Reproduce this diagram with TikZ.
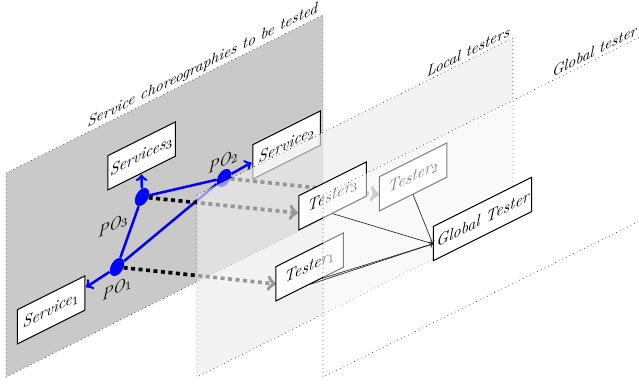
\documentclass[tikz,border=0pt]{standalone}
\usetikzlibrary{shapes.geometric,calc}
\begin{document}
\begin{tikzpicture}[x=0.6pt,y=-0.6pt,
  font=\fontsize{9}{11}\selectfont\itshape,
  plane/.style={draw=black!85, dotted, line width=0.4pt},
  box/.style={draw, fill=white, yslant=0.5, minimum width=40.5pt, minimum height=20.5pt, inner xsep=1pt, inner ysep=2pt, line width=0.6pt, font=\fontsize{9.6}{11}\selectfont\itshape},
  po/.style={shape=ellipse, fill=blue, yslant=0.5, minimum width=8.6pt, minimum height=10pt, inner sep=0pt},
  poedge/.style={blue, line width=1.5pt},
  poarrow/.style={blue, line width=1.5pt, ->, shorten >=0.5pt},
  dasharrow/.style={black, line width=2.2pt, dash pattern=on 2.4pt off 2.1pt, ->},
  thinarrow/.style={black!85, line width=0.4pt, ->},
  slanted/.style={yslant=0.5, font=\fontsize{9.6}{11}\selectfont\itshape},
  planelabel/.style={yslant=0.5, anchor=south east, inner sep=2pt}
]
\useasboundingbox (0,0) rectangle (639,385);

% plane 1
\path[plane, fill=black!21] (6,173) -- (323,15) -- (323,219) -- (6,377) -- cycle;
\node[planelabel] (lab1) at (321,17) {Service choreographies to be tested};

% plane 1 contents
\node[po] (PO1) at (117,267) {};
\node[po] (PO2) at (224,178) {};
\node[po] (PO3) at (142,197) {};
\node[box] (S3) at (141.5,156) {Services$_3$};
\node[box] (S2) at (286.5,145) {Service$_2$};
\node[box] (S1) at (51,310) {Service$_1$};
\draw[poedge] (PO3) -- (PO2);
\draw[poedge] (PO3) -- (PO1);
\draw[poedge] (PO1) -- (PO2);
\draw[poarrow] (PO3) -- (S3.south);
\draw[poarrow] (PO2) -- (S2.west);
\draw[poarrow] (PO1) -- (S1);
\node[slanted] (l1) at (117,289) {PO$_1$};
\node[slanted] (l3) at (113,226) {PO$_3$};
\node[slanted] (l2) at (223,162) {PO$_2$};

% tester west ends (boxes drawn after plane 2)
\coordinate (T3w) at (298,213);
\coordinate (T2w) at (379,194.5);
\coordinate (T1w) at (276,284);
\draw[dasharrow] (PO3) -- (T3w);
\draw[dasharrow] (PO2) -- (T2w);
\draw[dasharrow] (PO1) -- (T1w);

% plane 2
\path[plane, fill=black!7, fill opacity=0.64] (197,195) -- (513,38) -- (513,219) -- (197,377) -- cycle;
\node[planelabel] (lab2) at (513,38) {Local testers};

\node[box] (T3) at (332.5,196) {Tester$_3$};
\node[box] (T2) at (413,177) {Tester$_2$};
\node[box] (T1) at (309.5,267) {Tester$_1$};

% plane 3
\path[plane, fill=white, fill opacity=0.5] (323,195) -- (640,37) -- (640,221) -- (323,377) -- cycle;
\node[planelabel] (lab3) at (640,37) {Global tester};

\node[box, minimum width=59pt] (GT) at (482.5,219) {Global Tester};
\draw[thinarrow] (T3.south) -- (GT.west);
\draw[thinarrow] (T2.south) -- (GT.west);
\draw[thinarrow] (T1.south) -- (GT.west);
\draw[thinarrow] ($(T1.south)!0.35!(T1.south east)$) -- (GT.west);
\end{tikzpicture}
\end{document}
